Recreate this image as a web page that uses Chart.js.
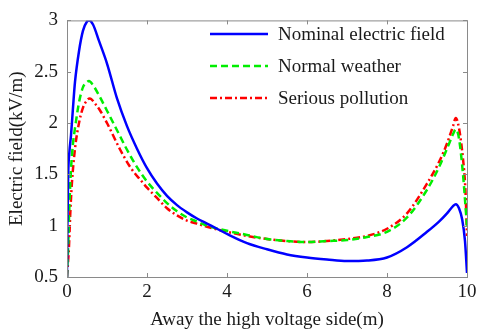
<!DOCTYPE html>
<html>
<head>
<meta charset="utf-8">
<script src="https://cdn.jsdelivr.net/npm/chart.js@4/dist/chart.umd.min.js"></script>
<style>
  html, body { margin: 0; padding: 0; background: #fff; }
  #wrap { width: 481px; height: 331px; }
</style>
</head>
<body>
<div id="wrap"><canvas id="chart" width="481" height="331"></canvas></div>
<script>
// ── data ──
const xNominal = [0, 0.01, 0.03, 0.06, 0.1, 0.15, 0.2, 0.3, 0.4, 0.5, 0.55, 0.65, 0.8, 1.0, 1.25, 1.5, 1.75, 2.0, 2.25, 2.5, 2.75, 3.0, 3.25, 3.5, 3.75, 4.0, 4.5, 5.0, 5.5, 6.0, 6.5, 7.0, 7.5, 8.0, 8.5, 9.0, 9.3, 9.5, 9.65, 9.72, 9.8, 9.88, 9.95, 10];
const yNominal = [0.5, 1.0, 1.5, 1.72, 1.88, 2.15, 2.4, 2.7, 2.9, 2.99, 3.0, 2.96, 2.8, 2.58, 2.24, 1.97, 1.75, 1.56, 1.41, 1.29, 1.2, 1.13, 1.07, 1.02, 0.97, 0.92, 0.83, 0.77, 0.72, 0.69, 0.67, 0.655, 0.66, 0.69, 0.79, 0.94, 1.04, 1.12, 1.19, 1.21, 1.17, 1.06, 0.85, 0.54];

const xNormal = [0, 0.03, 0.06, 0.1, 0.15, 0.2, 0.3, 0.4, 0.5, 0.55, 0.65, 0.8, 1.0, 1.25, 1.5, 1.75, 2.0, 2.25, 2.5, 2.75, 3.0, 3.25, 3.5, 4.0, 4.5, 5.0, 5.5, 6.0, 6.5, 7.0, 7.5, 8.0, 8.5, 9.0, 9.3, 9.5, 9.65, 9.72, 9.8, 9.9, 9.97, 10];
const yNormal = [0.5, 0.8, 1.2, 1.55, 1.8, 1.95, 2.2, 2.35, 2.4, 2.41, 2.37, 2.27, 2.12, 1.93, 1.74, 1.57, 1.43, 1.32, 1.22, 1.14, 1.08, 1.04, 1.0, 0.95, 0.91, 0.87, 0.85, 0.84, 0.85, 0.86, 0.89, 0.94, 1.08, 1.35, 1.57, 1.75, 1.89, 1.94, 1.85, 1.5, 1.15, 1.0];

const xPollution = [0, 0.05, 0.08, 0.12, 0.2, 0.3, 0.4, 0.5, 0.57, 0.7, 0.83, 1.0, 1.33, 1.6, 1.87, 2.0, 2.25, 2.5, 2.75, 3.0, 3.25, 3.5, 4.0, 4.5, 5.0, 5.5, 6.0, 6.5, 7.0, 7.5, 8.0, 8.5, 9.0, 9.3, 9.5, 9.65, 9.72, 9.8, 9.9, 9.96, 10];
const yPollution = [0.5, 0.8, 1.1, 1.4, 1.75, 2.0, 2.15, 2.22, 2.24, 2.19, 2.12, 2.0, 1.74, 1.56, 1.43, 1.37, 1.27, 1.17, 1.1, 1.05, 1.02, 0.99, 0.94, 0.9, 0.87, 0.85, 0.84, 0.85, 0.87, 0.9, 0.97, 1.12, 1.41, 1.62, 1.8, 1.97, 2.05, 1.95, 1.65, 1.35, 0.9];

const seriesLabels = ['Nominal electric field', 'Normal weather', 'Serious pollution'];
const xTicks = [0, 2, 4, 6, 8, 10];
const yTicks = [0.5, 1, 1.5, 2, 2.5, 3];

const toPts = (xs, ys) => xs.map((x, i) => ({ x, y: ys[i] }));
const SERIF = '"Liberation Serif", "Times New Roman", serif';
const FONT_SIZE = 19;

// MATLAB style box with inward ticks on all four sides
const boxTicks = {
  id: 'boxTicks',
  afterDraw(chart) {
    const { ctx, chartArea: a, scales } = chart;
    ctx.save();
    ctx.strokeStyle = '#8a8a8a';
    ctx.lineWidth = 1;
    ctx.strokeRect(a.left + 0.5, a.top + 0.5, a.right - a.left, a.bottom - a.top);
    ctx.beginPath();
    xTicks.forEach(v => {
      const px = Math.round(scales.x.getPixelForValue(v)) + 0.5;
      ctx.moveTo(px, a.bottom); ctx.lineTo(px, a.bottom - 4);
      ctx.moveTo(px, a.top);    ctx.lineTo(px, a.top + 4);
    });
    yTicks.forEach(v => {
      const py = Math.round(scales.y.getPixelForValue(v)) + 0.5;
      ctx.moveTo(a.left, py);  ctx.lineTo(a.left + 4, py);
      ctx.moveTo(a.right, py); ctx.lineTo(a.right - 4, py);
    });
    ctx.stroke();
    ctx.restore();
  }
};

// legend drawn inside the axes, no frame
const lineLegend = {
  id: 'lineLegend',
  afterDraw(chart) {
    const { ctx } = chart;
    ctx.save();
    ctx.font = FONT_SIZE + 'px ' + SERIF;
    ctx.textBaseline = 'middle';
    ctx.fillStyle = '#1a1a1a';
    chart.data.datasets.forEach((ds, i) => {
      const y = 34 + i * 32;
      ctx.strokeStyle = ds.borderColor;
      ctx.lineWidth = ds.borderWidth;
      ctx.setLineDash(ds.borderDash || []);
      ctx.beginPath();
      ctx.moveTo(210, y); ctx.lineTo(268, y);
      ctx.stroke();
      ctx.fillText(ds.label, 278, y + 1);
    });
    ctx.restore();
  }
};

new Chart(document.getElementById('chart').getContext('2d'), {
  type: 'line',
  data: {
    datasets: [
      { label: seriesLabels[0], data: toPts(xNominal, yNominal), borderColor: '#0000ff', borderWidth: 2.5 },
      { label: seriesLabels[1], data: toPts(xNormal, yNormal), borderColor: '#00ee00', borderWidth: 2.5, borderDash: [7, 4] },
      { label: seriesLabels[2], data: toPts(xPollution, yPollution), borderColor: '#ff0000', borderWidth: 2.5, borderDash: [7, 3, 2, 3] }
    ]
  },
  options: {
    responsive: false,
    animation: false,
    cubicInterpolationMode: 'monotone',
    pointRadius: 0,
    layout: { padding: { top: 7, right: 14, left: 0, bottom: 0 } },
    plugins: { legend: { display: false }, tooltip: { enabled: false } },
    scales: {
      x: {
        type: 'linear', min: 0, max: 10,
        grid: { display: false, drawTicks: false },
        border: { display: false },
        afterFit: s => { s.height = 54; },
        afterBuildTicks: s => { s.ticks = xTicks.map(v => ({ value: v })); },
        ticks: { color: '#1a1a1a', font: { family: SERIF, size: FONT_SIZE }, padding: 4, maxRotation: 0, callback: v => String(v) },
        title: { display: true, text: 'Away the high voltage side(m)', color: '#1a1a1a', font: { family: SERIF, size: FONT_SIZE }, padding: { top: 0, bottom: 0 } }
      },
      y: {
        min: 0.5, max: 3,
        grid: { display: false, drawTicks: false },
        border: { display: false },
        afterFit: s => { s.width = 67; },
        afterBuildTicks: s => { s.ticks = yTicks.map(v => ({ value: v })); },
        ticks: { color: '#1a1a1a', font: { family: SERIF, size: FONT_SIZE }, padding: 9, callback: v => String(v) },
        title: { display: true, text: 'Electric field(kV/m)', color: '#1a1a1a', font: { family: SERIF, size: FONT_SIZE }, padding: { top: 6, bottom: 0 } }
      }
    }
  },
  plugins: [boxTicks, lineLegend]
});
</script>
</body>
</html>
